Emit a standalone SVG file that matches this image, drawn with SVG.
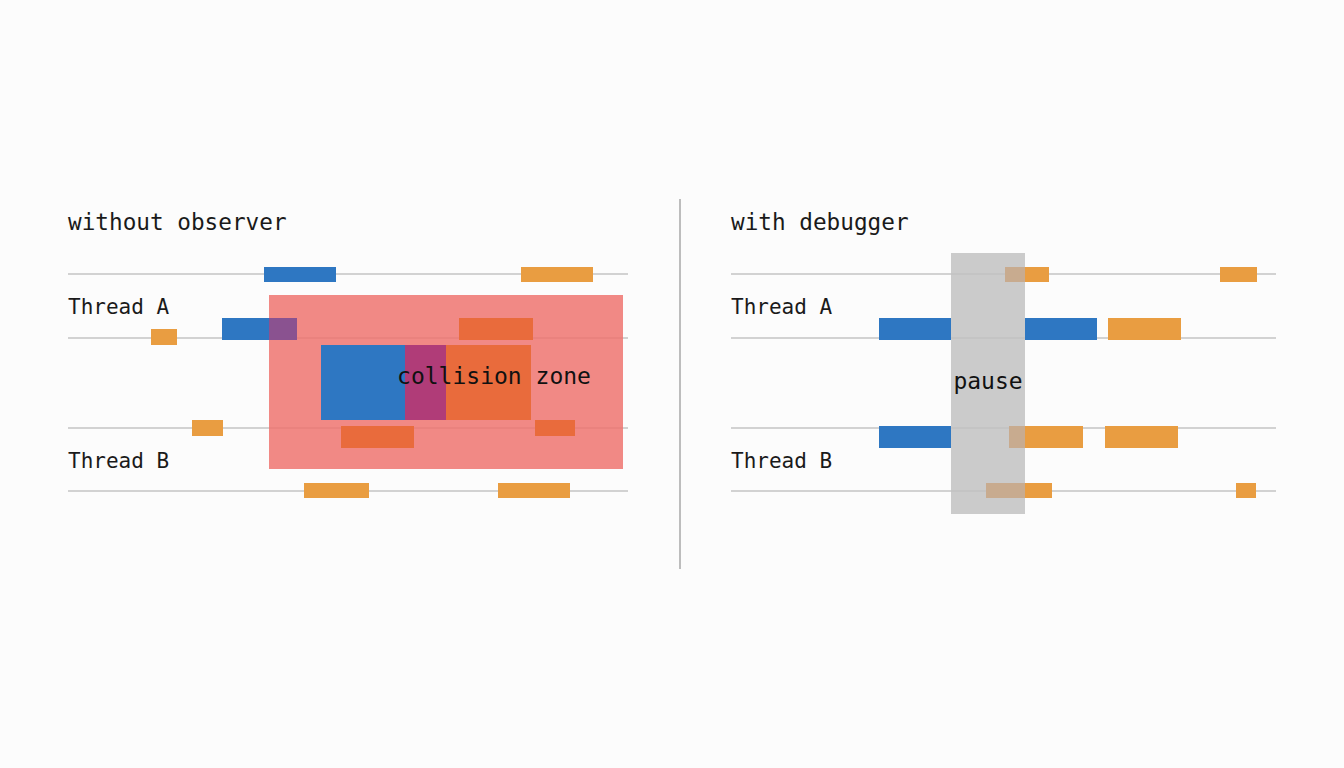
<svg xmlns="http://www.w3.org/2000/svg" width="1344" height="768" viewBox="0 0 1344 768">
<style>
.title{font-family:"DejaVu Sans Mono","Liberation Mono",monospace;font-size:22.7px;fill:#1a1a1a}
.lbl{font-family:"DejaVu Sans Mono","Liberation Mono",monospace;font-size:21px;fill:#1a1a1a}
.zl{font-family:"DejaVu Sans Mono","Liberation Mono",monospace;font-size:23px;fill:#111}
.track{stroke:#c4c4c4;stroke-width:1.5;fill:none}
.blue{fill:#2e77c2}
.orange{fill:#e99d41}
.hot{fill:#e96b3c}
.purple{fill:#8a5290}
.mag{fill:#b03c78}
.tan{fill:#c8ab8f}
</style>
<rect width="1344" height="768" fill="#fcfcfc"/>

<g id="connectors">
  <line class="track" x1="68" y1="274" x2="628" y2="274"/>
  <line class="track" x1="68" y1="338" x2="628" y2="338"/>
  <line class="track" x1="68" y1="428" x2="628" y2="428"/>
  <line class="track" x1="68" y1="491" x2="628" y2="491"/>
  <line class="track" x1="731" y1="274" x2="1276" y2="274"/>
  <line class="track" x1="731" y1="338" x2="1276" y2="338"/>
  <line class="track" x1="731" y1="428" x2="1276" y2="428"/>
  <line class="track" x1="731" y1="491" x2="1276" y2="491"/>
  <line x1="680" y1="199" x2="680" y2="569" stroke="#a8a8a8" stroke-width="1.5"/>
</g>

<g id="left-panel">
  <text class="title" x="68" y="230">without observer</text>
  <text class="lbl" x="68" y="314">Thread A</text>
  <text class="lbl" x="68" y="468">Thread B</text>
  <rect class="blue" x="264" y="267" width="72" height="15"/>
  <rect class="orange" x="521" y="267" width="72" height="15"/>
  <rect class="orange" x="151" y="329" width="26" height="16"/>
  <rect class="blue" x="222" y="318" width="75" height="22"/>
  <rect class="orange" x="192" y="420" width="31" height="16"/>
  <rect class="orange" x="304" y="483" width="65" height="15"/>
  <rect class="orange" x="498" y="483" width="72" height="15"/>
</g>

<g id="collision-zone">
  <rect x="269" y="295" width="354" height="174" fill="#ee7470" fill-opacity="0.85"/>
  <rect class="purple" x="269" y="318" width="28" height="22"/>
  <rect class="hot" x="459" y="318" width="74" height="22"/>
  <rect class="blue" x="321" y="345" width="84" height="75"/>
  <rect class="mag" x="405" y="345" width="41" height="75"/>
  <rect class="hot" x="446" y="345" width="85" height="75"/>
  <rect class="hot" x="341" y="426" width="73" height="22"/>
  <rect class="hot" x="535" y="420" width="40" height="16"/>
  <text class="zl" x="494" y="384" text-anchor="middle">collision zone</text>
</g>

<g id="right-panel">
  <text class="title" x="731" y="230">with debugger</text>
  <text class="lbl" x="731" y="314">Thread A</text>
  <text class="lbl" x="731" y="468">Thread B</text>
  <rect class="orange" x="1025" y="267" width="24" height="15"/>
  <rect class="orange" x="1220" y="267" width="37" height="15"/>
  <rect class="blue" x="879" y="318" width="72" height="22"/>
  <rect class="blue" x="1025" y="318" width="72" height="22"/>
  <rect class="orange" x="1108" y="318" width="73" height="22"/>
  <rect class="blue" x="879" y="426" width="72" height="22"/>
  <rect class="orange" x="1025" y="426" width="58" height="22"/>
  <rect class="orange" x="1105" y="426" width="73" height="22"/>
  <rect class="orange" x="1025" y="483" width="27" height="15"/>
  <rect class="orange" x="1236" y="483" width="20" height="15"/>
</g>

<g id="pause">
  <rect x="951" y="253" width="74" height="261" fill="#c2c2c2" fill-opacity="0.85"/>
  <rect class="tan" x="1005" y="267" width="20" height="15"/>
  <rect class="tan" x="1009" y="426" width="16" height="22"/>
  <rect class="tan" x="986" y="483" width="39" height="15"/>
  <text class="zl" x="988" y="389" text-anchor="middle">pause</text>
</g>
</svg>
